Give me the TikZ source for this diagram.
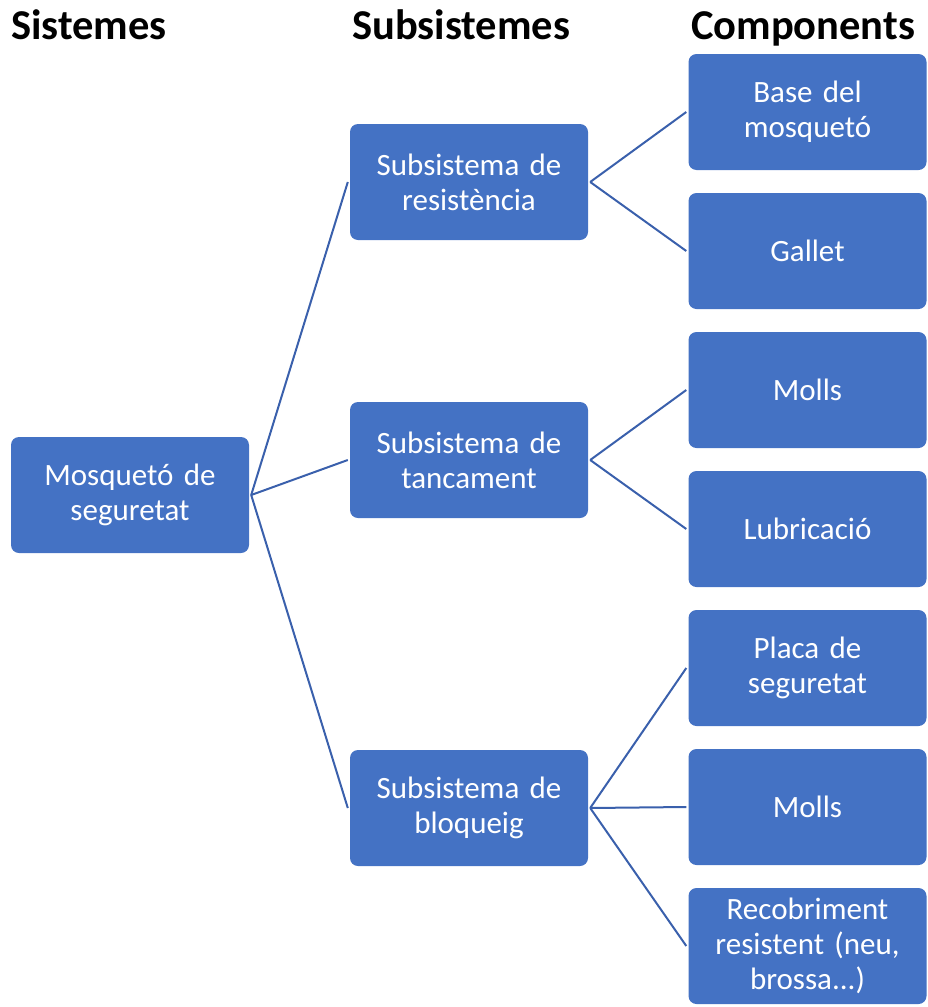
\documentclass[tikz,border=0pt]{standalone}
\usepackage{fontspec}
\setmainfont{Carlito}
\definecolor{boxblue}{HTML}{4472C4}
\definecolor{lineblue}{RGB}{58,96,172}
\tikzset{
    treebox/.style={fill=boxblue, rounded corners=8pt, minimum width=238pt, minimum height=116pt,
        text width=220pt, align=center, text=white, inner sep=0pt,
        font=\fontsize{31}{35}\selectfont},
    header/.style={anchor=base west, inner sep=0pt, font=\fontsize{42.5}{46}\selectfont\bfseries},
    branch/.style={draw=lineblue, line width=2pt}
}
\begin{document}
\begin{tikzpicture}[x=1pt, y=-1pt]
            \useasboundingbox (0, 0) rectangle (928, 1007);

            \node[header] (hsis) at (11, 39) {Sistemes};
            \node[header] (hsub) at (352, 39) {Subsistemes};
            \node[header] (hcom) at (691, 39) {Components};

            \node[treebox] (root) at (130, 495) {Mosquetó de\\seguretat};

            \node[treebox] (res) at (469, 182) {Subsistema de\\resistència};
            \node[treebox] (tan) at (469, 460) {Subsistema de\\tancament};
            \node[treebox] (blo) at (469, 808) {Subsistema de\\bloqueig};

            \node[treebox] (base) at (807.5, 112) {Base del\\mosquetó};
            \node[treebox] (gallet) at (807.5, 251) {Gallet};
            \node[treebox] (molls1) at (807.5, 390) {Molls};
            \node[treebox] (lubri) at (807.5, 529) {Lubricació};
            \node[treebox] (placa) at (807.5, 668) {Placa de\\seguretat};
            \node[treebox] (molls2) at (807.5, 807) {Molls};
            \node[treebox] (recob) at (807.5, 946) {Recobriment\\resistent (neu,\\brossa...)};

            \draw[branch] ([xshift=2pt]root.east) -- ([xshift=-2pt]res.west);
            \draw[branch] ([xshift=2pt]root.east) -- ([xshift=-2pt]tan.west);
            \draw[branch] ([xshift=2pt]root.east) -- ([xshift=-2pt]blo.west);

            \draw[branch] ([xshift=2pt]res.east) -- ([xshift=-2pt]base.west);
            \draw[branch] ([xshift=2pt]res.east) -- ([xshift=-2pt]gallet.west);
            \draw[branch] ([xshift=2pt]tan.east) -- ([xshift=-2pt]molls1.west);
            \draw[branch] ([xshift=2pt]tan.east) -- ([xshift=-2pt]lubri.west);
            \draw[branch] ([xshift=2pt]blo.east) -- ([xshift=-2pt]placa.west);
            \draw[branch] ([xshift=2pt]blo.east) -- ([xshift=-2pt]molls2.west);
            \draw[branch] ([xshift=2pt]blo.east) -- ([xshift=-2pt]recob.west);
        \end{tikzpicture}
\end{document}
